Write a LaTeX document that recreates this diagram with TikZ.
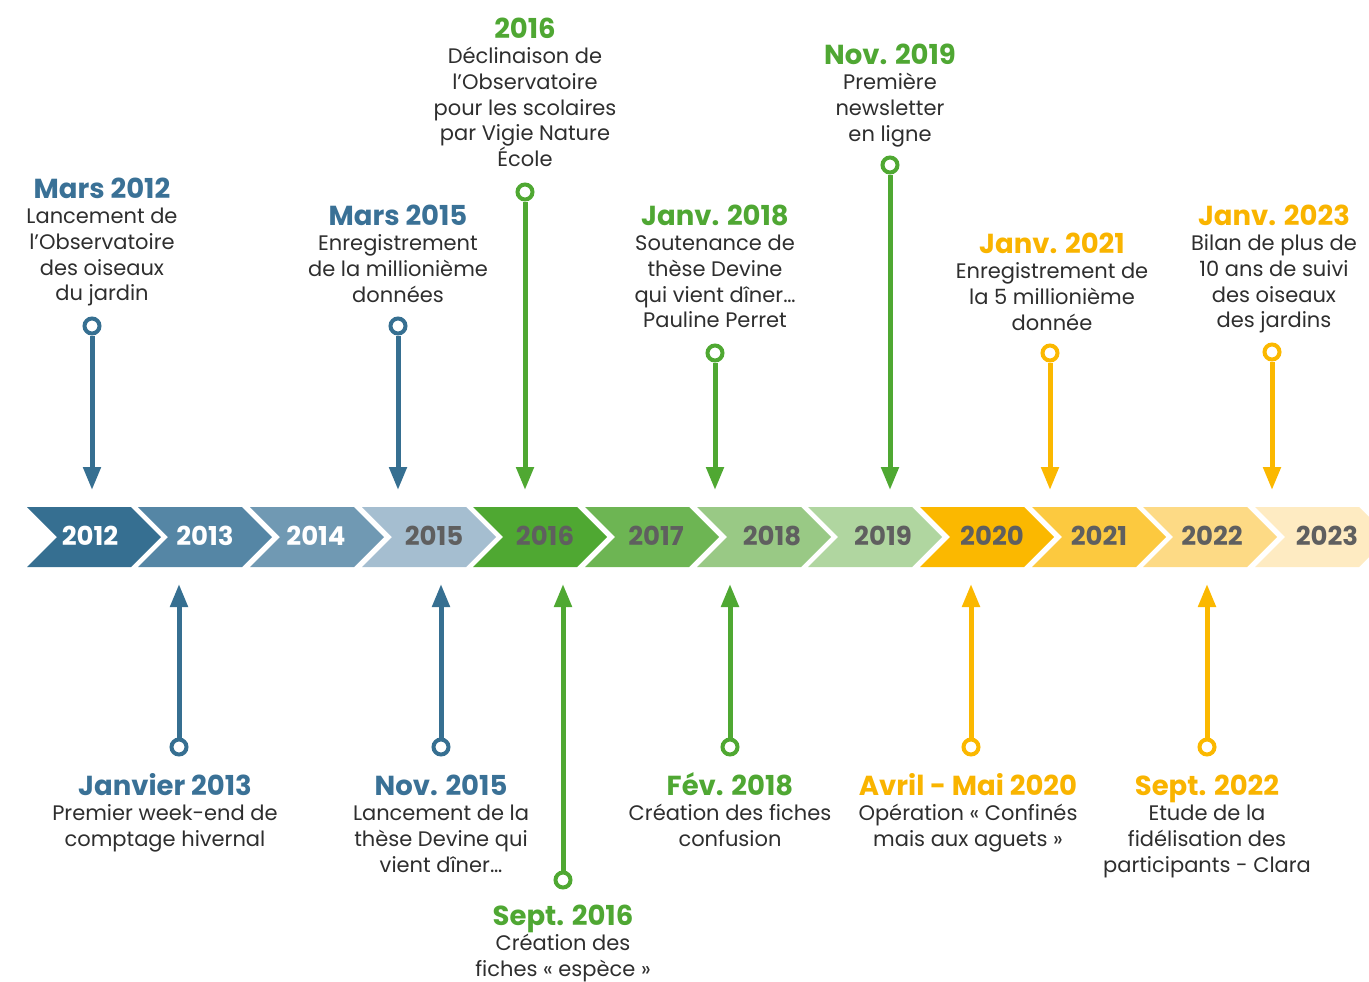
\documentclass[tikz,border=0pt]{standalone}
\usepackage{fontspec}
\setmainfont{Poppins}
\usetikzlibrary{arrows.meta}
\definecolor{cA}{HTML}{366F91}
\definecolor{cB}{HTML}{5586A5}
\definecolor{cC}{HTML}{7099B3}
\definecolor{cD}{HTML}{A5BED0}
\definecolor{gA}{HTML}{4FA832}
\definecolor{gB}{HTML}{6DB553}
\definecolor{gC}{HTML}{99C985}
\definecolor{gD}{HTML}{B0D6A0}
\definecolor{yA}{HTML}{FBB800}
\definecolor{yB}{HTML}{FCC93F}
\definecolor{yC}{HTML}{FDDA85}
\definecolor{yD}{HTML}{FEEBC2}
\definecolor{yrtxt}{HTML}{5F5F5F}
\definecolor{bodytxt}{HTML}{2E2E2E}
\definecolor{tBlue}{HTML}{3A7196}
\definecolor{tGreen}{HTML}{4FA733}
\definecolor{tYellow}{HTML}{F9B400}
\newcommand{\evtitle}[2]{{\fontsize{27.5}{25.7}\selectfont\bfseries\color{#1}#2}}
\begin{document}
\begin{tikzpicture}[x=1pt,y=-1pt,
  yearlbl/.style={anchor=base, inner sep=0pt, font=\fontsize{26}{30}\selectfont\bfseries},
  ev/.style={align=center, anchor=base, inner sep=0pt, text=bodytxt, font=\fontsize{21}{25.7}\selectfont},
  dot/.style={circle, draw=#1, fill=white, line width=4pt, minimum size=15pt, inner sep=0pt},
  conn/.style={draw=#1, line width=5pt, -{Triangle[width=17pt,length=23pt]}}]
\useasboundingbox (0,0) rectangle (1369,982);
\begin{scope}
\clip (0,0) rectangle (1369,982);
\foreach \L/\c/\yr/\tx/\tc in {27/cA/2012/90/white,138/cB/2013/205/white,250/cC/2014/316/white,362/cD/2015/434/yrtxt,473/gA/2016/545/yrtxt,585/gB/2017/656/yrtxt,697/gC/2018/772/yrtxt,808/gD/2019/883/yrtxt,920/yA/2020/992/yrtxt,1032/yB/2021/1099/yrtxt,1143/yC/2022/1212/yrtxt,1255/yD/2023/1327/yrtxt}{
  \fill[\c] (\L,507) -- (\L+104,507) -- (\L+134,537) -- (\L+104,567) -- (\L,567) -- (\L+30,537) -- cycle;
  \node[yearlbl, text=\tc] (y\yr) at (\tx,545) {\yr};
}
\end{scope}

% upper events (node placed at the baseline of its last line)
\node[ev] (e1) at (102,300.8) {\evtitle{tBlue}{Mars 2012}\\Lancement de\\l’Observatoire\\des oiseaux\\du jardin};
\node[ev] (e2) at (398,302.1) {\evtitle{tBlue}{Mars 2015}\\Enregistrement\\de la millionième\\données};
\node[ev] (e3) at (525,166.5) {\evtitle{tGreen}{2016}\\Déclinaison de\\l’Observatoire\\pour les scolaires\\par Vigie Nature\\École};
\node[ev] (e4) at (715,327.8) {\evtitle{tGreen}{Janv. 2018}\\Soutenance de\\thèse Devine\\qui vient dîner…\\Pauline Perret};
\node[ev] (e5) at (890,141.1) {\evtitle{tGreen}{Nov. 2019}\\Première\\newsletter\\en ligne};
\node[ev] (e6) at (1052,330.1) {\evtitle{tYellow}{Janv. 2021}\\Enregistrement de\\la 5 millionième\\donnée};
\node[ev] (e7) at (1274,327.8) {\evtitle{tYellow}{Janv. 2023}\\Bilan de plus de\\10 ans de suivi\\des oiseaux\\des jardins};
% lower events
\node[ev] (e8) at (165,846.4) {\evtitle{tBlue}{Janvier 2013}\\Premier week-end de\\comptage hivernal};
\node[ev] (e9) at (441,872.1) {\evtitle{tBlue}{Nov. 2015}\\Lancement de la\\thèse Devine qui\\vient dîner…};
\node[ev] (e10) at (563,976.5) {\evtitle{tGreen}{Sept. 2016}\\Création des\\fiches « espèce »};
\node[ev] (e11) at (730,846.4) {\evtitle{tGreen}{Fév. 2018}\\Création des fiches\\confusion};
\node[ev] (e12) at (968,846.4) {\evtitle{tYellow}{Avril - Mai 2020}\\Opération « Confinés\\mais aux aguets »};
\node[ev] (e13) at (1207,872.1) {\evtitle{tYellow}{Sept. 2022}\\Etude de la\\fidélisation des\\participants - Clara};

% connectors
\foreach \n/\x/\cy/\ty/\c in {1/92/326/490/cA,2/398/326/490/cA,3/525/192/490/gA,4/715/353/490/gA,5/890/165/490/gA,6/1050/353/490/yA,7/1272/352/490/yA,8/179/747/584/cA,9/441/747/584/cA,10/563/880/584/gA,11/730/747/584/gA,12/971/747/584/yA,13/1207/747/584/yA}{
  \node[dot=\c] (d\n) at (\x,\cy) {};
  \coordinate (t\n) at (\x,\ty);
  \draw[conn=\c] (d\n) -- (t\n);
}
\end{tikzpicture}
\end{document}
